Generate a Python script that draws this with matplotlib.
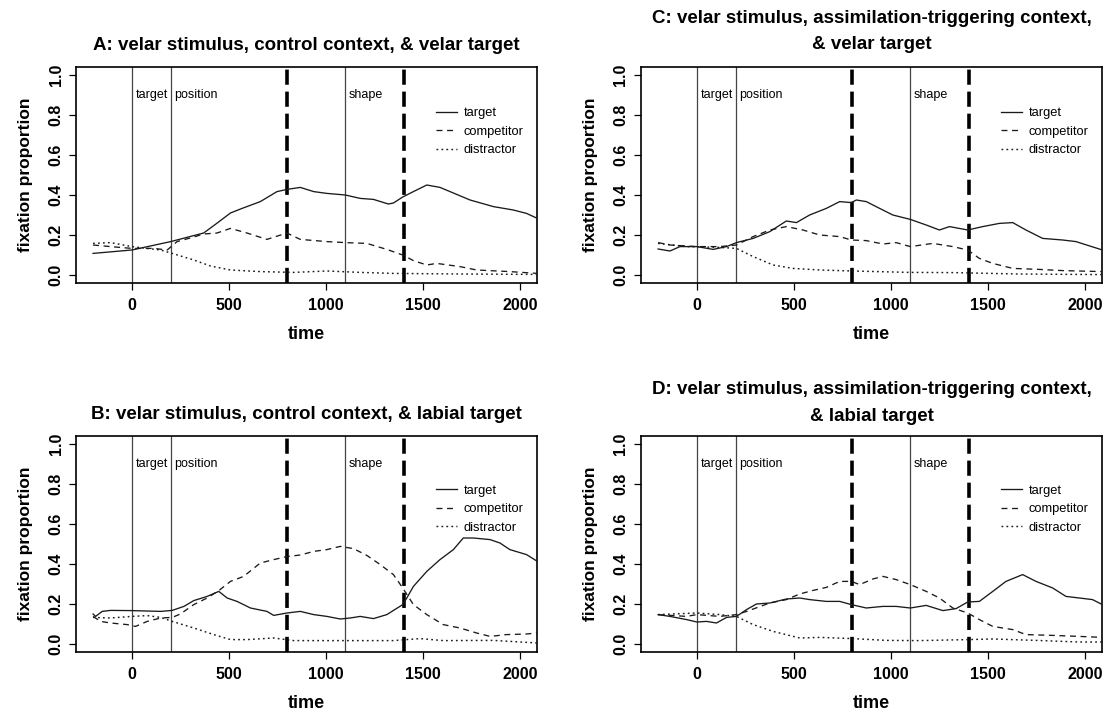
import matplotlib
matplotlib.use("Agg")
import matplotlib.pyplot as plt
from matplotlib import font_manager

plt.rcParams['font.family'] = ['Liberation Sans', 'DejaVu Sans']
names = {f.name for f in font_manager.fontManager.ttflist}
NARROW = 'Liberation Sans Narrow' if 'Liberation Sans Narrow' in names else 'Liberation Sans'
ANN_SIZE = 10.5 if NARROW == 'Liberation Sans Narrow' else 9

# ---------------- data ----------------
titles = ["A: velar stimulus, control context, & velar target",
          "B: velar stimulus, control context, & labial target",
          "C: velar stimulus, assimilation-triggering context,\n& velar target",
          "D: velar stimulus, assimilation-triggering context,\n& labial target"]
series_names = ["target", "competitor", "distractor"]
xticks = [0, 500, 1000, 1500, 2000]
yticks = [0.0, 0.2, 0.4, 0.6, 0.8, 1.0]
solid_marks = [0, 200, 1100]
dashed_marks = [800, 1400]
mark_labels = [(0, "target"), (200, "position"), (1100, "shape")]

# Panel A
a_target_t = [-200, 0, 200, 370, 440, 508, 568, 662, 748, 800, 868, 937, 1005, 1100, 1177, 1245, 1322, 1348, 1396, 1451, 1520, 1588, 1657, 1743, 1863, 1966, 2034, 2090]
a_target = [0.108, 0.125, 0.167, 0.21, 0.26, 0.31, 0.333, 0.367, 0.417, 0.428, 0.438, 0.417, 0.408, 0.40, 0.383, 0.378, 0.355, 0.36, 0.39, 0.417, 0.45, 0.438, 0.41, 0.375, 0.342, 0.325, 0.308, 0.283]
a_comp_t = [-200, -110, 0, 113, 182, 233, 319, 370, 439, 508, 593, 696, 799, 868, 1005, 1100, 1211, 1314, 1396, 1451, 1520, 1571, 1691, 1777, 1948, 2090]
a_comp = [0.15, 0.142, 0.133, 0.133, 0.125, 0.167, 0.19, 0.205, 0.21, 0.233, 0.21, 0.178, 0.21, 0.178, 0.167, 0.162, 0.158, 0.128, 0.10, 0.072, 0.05, 0.058, 0.042, 0.025, 0.017, 0.008]
a_dist_t = [-200, -110, 0, 148, 208, 319, 405, 508, 662, 834, 1005, 1177, 1348, 1691, 2090]
a_dist = [0.158, 0.162, 0.142, 0.125, 0.108, 0.075, 0.045, 0.025, 0.017, 0.013, 0.02, 0.013, 0.008, 0.005, 0.003]

# Panel B
b_target_t = [-200, -187, -153, -110, 0, 148, 208, 268, 319, 388, 448, 491, 542, 611, 696, 731, 799, 868, 937, 1005, 1074, 1125, 1177, 1245, 1314, 1396, 1417, 1451, 1520, 1588, 1657, 1708, 1760, 1846, 1897, 1948, 2034, 2090]
b_target = [0.15, 0.138, 0.163, 0.168, 0.167, 0.163, 0.168, 0.188, 0.217, 0.238, 0.263, 0.23, 0.213, 0.18, 0.163, 0.143, 0.155, 0.163, 0.147, 0.138, 0.125, 0.13, 0.138, 0.127, 0.147, 0.197, 0.23, 0.288, 0.363, 0.422, 0.472, 0.53, 0.53, 0.522, 0.505, 0.472, 0.447, 0.413]
b_comp_t = [-200, -161, -110, -24, 19, 79, 148, 208, 250, 319, 388, 448, 508, 576, 662, 731, 799, 868, 937, 1005, 1074, 1142, 1211, 1280, 1348, 1396, 1451, 1520, 1605, 1691, 1777, 1846, 1931, 2034, 2090]
b_comp = [0.138, 0.113, 0.105, 0.097, 0.088, 0.113, 0.13, 0.133, 0.15, 0.197, 0.23, 0.267, 0.313, 0.338, 0.405, 0.422, 0.437, 0.445, 0.463, 0.472, 0.488, 0.477, 0.443, 0.397, 0.347, 0.28, 0.197, 0.147, 0.097, 0.08, 0.055, 0.038, 0.047, 0.05, 0.055]
b_dist_t = [-200, -110, 0, 79, 148, 208, 319, 422, 508, 593, 731, 834, 1005, 1348, 1485, 1605, 1863, 2090]
b_dist = [0.133, 0.13, 0.138, 0.142, 0.133, 0.113, 0.08, 0.047, 0.022, 0.022, 0.03, 0.017, 0.017, 0.017, 0.027, 0.017, 0.018, 0.005]

# Panel C
c_target_t = [-200, -139, -87, 0, 84, 153, 204, 290, 376, 461, 513, 581, 667, 736, 796, 822, 873, 942, 1010, 1100, 1182, 1250, 1302, 1396, 1473, 1559, 1628, 1696, 1782, 1885, 1954, 2090]
c_target = [0.13, 0.12, 0.142, 0.142, 0.128, 0.142, 0.162, 0.183, 0.217, 0.27, 0.262, 0.3, 0.333, 0.367, 0.362, 0.375, 0.367, 0.333, 0.3, 0.278, 0.25, 0.225, 0.242, 0.225, 0.242, 0.258, 0.262, 0.225, 0.183, 0.175, 0.167, 0.125]
c_comp_t = [-200, -139, 0, 118, 204, 290, 376, 461, 547, 633, 736, 796, 873, 959, 1027, 1100, 1216, 1319, 1396, 1456, 1525, 1628, 1765, 1885, 2090]
c_comp = [0.162, 0.15, 0.142, 0.142, 0.15, 0.192, 0.225, 0.242, 0.225, 0.2, 0.192, 0.175, 0.172, 0.155, 0.162, 0.142, 0.158, 0.142, 0.125, 0.083, 0.058, 0.033, 0.028, 0.022, 0.017]
c_dist_t = [-200, -53, 118, 204, 290, 393, 496, 633, 804, 1096, 1319, 1662, 2090]
c_dist = [0.158, 0.142, 0.138, 0.133, 0.092, 0.05, 0.033, 0.025, 0.02, 0.013, 0.012, 0.005, 0.002]

# Panel D
d_target_t = [-200, -139, -53, 0, 50, 101, 153, 204, 256, 307, 376, 461, 530, 581, 667, 736, 796, 873, 959, 1027, 1100, 1182, 1268, 1336, 1396, 1456, 1525, 1593, 1679, 1748, 1834, 1902, 1971, 2039, 2090]
d_target = [0.147, 0.138, 0.122, 0.11, 0.113, 0.105, 0.133, 0.138, 0.172, 0.2, 0.205, 0.225, 0.23, 0.222, 0.213, 0.213, 0.197, 0.18, 0.188, 0.188, 0.18, 0.193, 0.167, 0.177, 0.21, 0.213, 0.263, 0.313, 0.347, 0.313, 0.28, 0.238, 0.23, 0.222, 0.197]
d_comp_t = [-200, -53, 0, 118, 204, 256, 376, 461, 530, 599, 667, 736, 796, 839, 907, 959, 1027, 1100, 1182, 1250, 1319, 1396, 1456, 1525, 1628, 1696, 1834, 1971, 2090]
d_comp = [0.147, 0.138, 0.147, 0.138, 0.147, 0.163, 0.205, 0.222, 0.25, 0.268, 0.283, 0.313, 0.313, 0.297, 0.325, 0.338, 0.322, 0.297, 0.263, 0.23, 0.18, 0.155, 0.122, 0.088, 0.072, 0.047, 0.043, 0.038, 0.033]
d_dist_t = [-200, 0, 118, 204, 290, 393, 530, 633, 804, 976, 1147, 1396, 1525, 1748, 1971, 2090]
d_dist = [0.147, 0.155, 0.147, 0.138, 0.097, 0.063, 0.03, 0.033, 0.027, 0.018, 0.017, 0.022, 0.025, 0.018, 0.01, 0.01]

panels = [
    [(a_target_t, a_target), (a_comp_t, a_comp), (a_dist_t, a_dist)],
    [(b_target_t, b_target), (b_comp_t, b_comp), (b_dist_t, b_dist)],
    [(c_target_t, c_target), (c_comp_t, c_comp), (c_dist_t, c_dist)],
    [(d_target_t, d_target), (d_comp_t, d_comp), (d_dist_t, d_dist)],
]

# ---------------- layout ----------------
W, H = 1110, 713
fig = plt.figure(figsize=(W / 100, H / 100), dpi=100)

def box(l, t, r, b):
    return [l / W, 1 - b / H, (r - l) / W, (b - t) / H]

rects = [box(76, 67, 537, 283), box(76, 436, 537, 652),
         box(641, 67, 1102, 283), box(641, 436, 1102, 652)]
title_y = [45, 415, 31.5, 403]
legend_y = [0.813, 0.775, 0.813, 0.775]

styles = [dict(linestyle='-', lw=0.95),
          dict(linestyle=(0, (4.5, 3.5)), lw=0.95),
          dict(linestyle=(0, (1.2, 2.2)), lw=1.05)]
curve_color = '#1a1a1a'

for i, rect in enumerate(rects):
    ax = fig.add_axes(rect)
    for xm in solid_marks:
        ax.axvline(xm, color='#444444', lw=0.9, zorder=1)
    for xm in dashed_marks:
        ax.axvline(xm, color='black', lw=2.6, linestyle=(0, (4.2, 1.9)), zorder=1)
    for xm, lab in mark_labels:
        ax.text(xm + 18, 0.9, lab, fontsize=ANN_SIZE, family=NARROW, ha='left', va='center')
    handles = []
    for (t, v), st, nm in zip(panels[i], styles, series_names):
        h, = ax.plot(t, v, color=curve_color, label=nm, zorder=3, **st)
        handles.append(h)
    ax.set_xlim(-288, 2088)
    ax.set_ylim(-0.04, 1.04)
    ax.set_xticks(xticks)
    ax.set_xticklabels([str(x) for x in xticks], fontweight='bold', fontsize=11.5)
    ax.set_yticks(yticks)
    ax.set_yticklabels([f"{y:.1f}" for y in yticks], fontweight='bold', fontsize=11.5,
                       rotation=90, va='center')
    ax.tick_params(direction='out', length=5, width=0.9)
    ax.tick_params(axis='x', pad=5.5)
    ax.tick_params(axis='y', pad=4)
    for s in ax.spines.values():
        s.set_linewidth(1.2)
    ax.set_xlabel("time", fontweight='bold', fontsize=13, labelpad=10)
    ax.set_ylabel("fixation proportion", fontweight='bold', fontsize=12.5, labelpad=11)
    ax.legend(handles=handles, loc='upper left', bbox_to_anchor=(0.78, legend_y[i]),
              frameon=False, fontsize=9.3, borderpad=0, handlelength=1.65,
              handletextpad=0.55, labelspacing=0.5, borderaxespad=0)
    x0, y0, w, hgt = rect
    fig.text(x0 + w / 2, 1 - title_y[i] / H, titles[i], ha='center', va='center',
             fontsize=13.5, fontweight='bold', linespacing=1.7)

fig.savefig("out.png", dpi=100)
